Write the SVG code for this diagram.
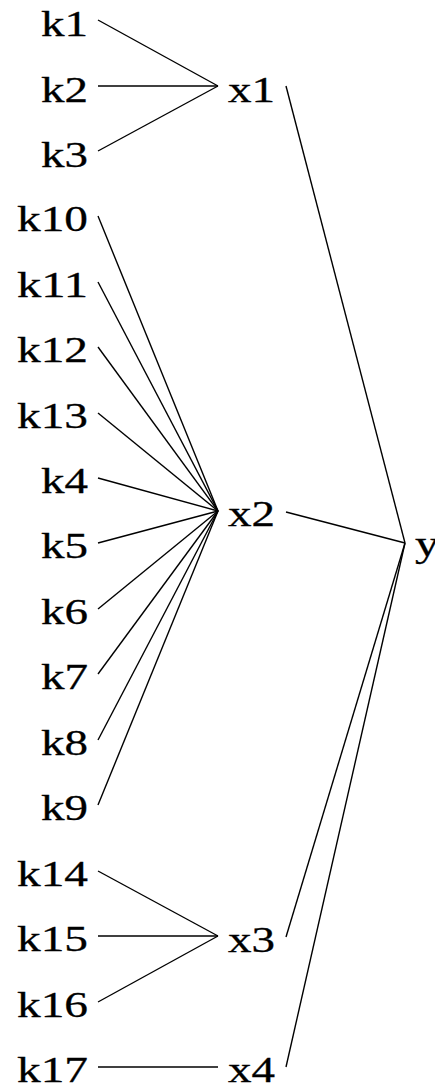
<svg xmlns="http://www.w3.org/2000/svg" width="435" height="1088" viewBox="0 0 435 1088">
<style>
text{font-family:"Liberation Serif","Times New Roman",serif;font-size:36px;fill:#000;stroke:#000;stroke-width:0.3}
.e line{stroke:#000;stroke-width:1.4;fill:none}
</style>
<rect width="435" height="1088" fill="#fff"/>
<g class="e" id="edges">
<line x1="98" y1="20" x2="218" y2="86"/>
<line x1="98" y1="86" x2="218" y2="86"/>
<line x1="98" y1="151" x2="218" y2="86"/>
<line x1="98" y1="216" x2="218" y2="511"/>
<line x1="98" y1="282" x2="218" y2="511"/>
<line x1="98" y1="347" x2="218" y2="511"/>
<line x1="98" y1="413" x2="218" y2="511"/>
<line x1="98" y1="478" x2="218" y2="511"/>
<line x1="98" y1="543" x2="218" y2="511"/>
<line x1="98" y1="609" x2="218" y2="511"/>
<line x1="98" y1="674" x2="218" y2="511"/>
<line x1="98" y1="740" x2="218" y2="511"/>
<line x1="98" y1="805" x2="218" y2="511"/>
<line x1="98" y1="871" x2="218" y2="936"/>
<line x1="98" y1="936" x2="218" y2="936"/>
<line x1="98" y1="1002" x2="218" y2="936"/>
<line x1="98" y1="1067" x2="218" y2="1067"/>
<line x1="286" y1="86" x2="405" y2="543"/>
<line x1="286" y1="512" x2="405" y2="543"/>
<line x1="286" y1="937" x2="405" y2="543"/>
<line x1="286" y1="1067" x2="405" y2="543"/>
</g>
<g id="k1"><text x="41" y="36" textLength="47" lengthAdjust="spacingAndGlyphs">k1</text></g>
<g id="k2"><text x="41" y="102" textLength="47" lengthAdjust="spacingAndGlyphs">k2</text></g>
<g id="k3"><text x="41" y="167" textLength="47" lengthAdjust="spacingAndGlyphs">k3</text></g>
<g id="k10"><text x="17" y="231" textLength="71" lengthAdjust="spacingAndGlyphs">k10</text></g>
<g id="k11"><text x="17" y="297" textLength="71" lengthAdjust="spacingAndGlyphs">k11</text></g>
<g id="k12"><text x="17" y="362" textLength="71" lengthAdjust="spacingAndGlyphs">k12</text></g>
<g id="k13"><text x="17" y="428" textLength="71" lengthAdjust="spacingAndGlyphs">k13</text></g>
<g id="k4"><text x="41" y="493" textLength="47" lengthAdjust="spacingAndGlyphs">k4</text></g>
<g id="k5"><text x="41" y="558" textLength="47" lengthAdjust="spacingAndGlyphs">k5</text></g>
<g id="k6"><text x="41" y="624" textLength="47" lengthAdjust="spacingAndGlyphs">k6</text></g>
<g id="k7"><text x="41" y="689" textLength="47" lengthAdjust="spacingAndGlyphs">k7</text></g>
<g id="k8"><text x="41" y="755" textLength="47" lengthAdjust="spacingAndGlyphs">k8</text></g>
<g id="k9"><text x="41" y="820" textLength="47" lengthAdjust="spacingAndGlyphs">k9</text></g>
<g id="k14"><text x="17" y="886" textLength="71" lengthAdjust="spacingAndGlyphs">k14</text></g>
<g id="k15"><text x="17" y="951" textLength="71" lengthAdjust="spacingAndGlyphs">k15</text></g>
<g id="k16"><text x="17" y="1017" textLength="71" lengthAdjust="spacingAndGlyphs">k16</text></g>
<g id="k17"><text x="17" y="1082" textLength="71" lengthAdjust="spacingAndGlyphs">k17</text></g>
<g id="x1"><text x="228" y="102" textLength="47" lengthAdjust="spacingAndGlyphs">x1</text></g>
<g id="x2"><text x="228" y="526" textLength="47" lengthAdjust="spacingAndGlyphs">x2</text></g>
<g id="x3"><text x="228" y="952" textLength="47" lengthAdjust="spacingAndGlyphs">x3</text></g>
<g id="x4"><text x="228" y="1082" textLength="47" lengthAdjust="spacingAndGlyphs">x4</text></g>
<g id="y"><text x="415" y="556" textLength="24" lengthAdjust="spacingAndGlyphs">y</text></g>
</svg>
